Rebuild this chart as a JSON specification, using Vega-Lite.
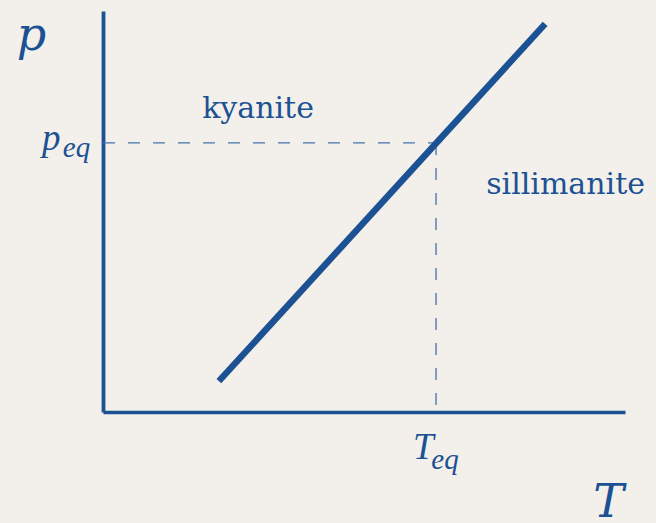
{
  "$schema": "https://vega.github.io/schema/vega-lite/v6.json",
  "width": 522,
  "height": 401,
  "autosize": {"type": "none"},
  "padding": {"left": 103, "top": 11, "right": 31, "bottom": 111},
  "background": "#f3f0eb",
  "config": {"view": {"stroke": null}},
  "datasets": {
    "boundary": [{"T": 22.2, "p": 7.7}, {"T": 84.7, "p": 96.8}],
    "hdash": [{"T": 0, "p": 67.1}, {"T": 63.8, "p": 67.1}],
    "vdash": [{"T": 63.8, "p": 67.1}, {"T": 63.8, "p": 0}],
    "phases": [
      {"label": "kyanite", "T": 19.0, "p": 73.3},
      {"label": "sillimanite", "T": 73.4, "p": 54.4}
    ],
    "bigsym": [
      {"label": "p", "T": -16.5, "p": 90.3},
      {"label": "T", "T": 93.9, "p": -26.2}
    ],
    "eqmain": [
      {"label": "p", "T": -11.7, "p": 65.3},
      {"label": "T", "T": 59.4, "p": -11.7}
    ],
    "eqsub": [
      {"label": "eq", "T": -7.7, "p": 63.6},
      {"label": "eq", "T": 62.9, "p": -14.2}
    ]
  },
  "layer": [
    {
      "data": {"name": "hdash"},
      "mark": {"type": "line", "color": "#4572a9", "strokeWidth": 1.3, "strokeDash": [12, 13], "clip": false},
      "encoding": {
        "x": {"field": "T", "type": "quantitative", "scale": {"domain": [0, 100], "nice": false, "zero": false},
          "axis": {"domainColor": "#1c5193", "domainWidth": 3.5, "ticks": false, "labels": false, "grid": false, "title": null}},
        "y": {"field": "p", "type": "quantitative", "scale": {"domain": [0, 100], "nice": false, "zero": false},
          "axis": {"domainColor": "#1c5193", "domainWidth": 3.8, "ticks": false, "labels": false, "grid": false, "title": null}}
      }
    },
    {
      "data": {"name": "vdash"},
      "mark": {"type": "line", "color": "#4572a9", "strokeWidth": 1.3, "strokeDash": [12, 13], "clip": false},
      "encoding": {
        "x": {"field": "T", "type": "quantitative"},
        "y": {"field": "p", "type": "quantitative"},
        "order": {"field": "p", "sort": "descending"}
      }
    },
    {
      "data": {"name": "boundary"},
      "mark": {"type": "line", "color": "#1c5193", "strokeWidth": 6.5, "strokeCap": "butt", "clip": false},
      "encoding": {
        "x": {"field": "T", "type": "quantitative"},
        "y": {"field": "p", "type": "quantitative"}
      }
    },
    {
      "data": {"name": "phases"},
      "mark": {"type": "text", "font": "DejaVu Serif", "fontSize": 30, "color": "#1c5193", "align": "left", "baseline": "alphabetic", "clip": false},
      "encoding": {
        "x": {"field": "T", "type": "quantitative"},
        "y": {"field": "p", "type": "quantitative"},
        "text": {"field": "label"}
      }
    },
    {
      "data": {"name": "bigsym"},
      "mark": {"type": "text", "font": "DejaVu Serif", "fontStyle": "italic", "fontSize": 46, "color": "#1c5193", "align": "left", "baseline": "alphabetic", "clip": false},
      "encoding": {
        "x": {"field": "T", "type": "quantitative"},
        "y": {"field": "p", "type": "quantitative"},
        "text": {"field": "label"}
      }
    },
    {
      "data": {"name": "eqmain"},
      "mark": {"type": "text", "font": "Liberation Serif", "fontStyle": "italic", "fontSize": 37, "color": "#1c5193", "align": "left", "baseline": "alphabetic", "clip": false},
      "encoding": {
        "x": {"field": "T", "type": "quantitative"},
        "y": {"field": "p", "type": "quantitative"},
        "text": {"field": "label"}
      }
    },
    {
      "data": {"name": "eqsub"},
      "mark": {"type": "text", "font": "Liberation Serif", "fontStyle": "italic", "fontSize": 29, "color": "#1c5193", "align": "left", "baseline": "alphabetic", "clip": false},
      "encoding": {
        "x": {"field": "T", "type": "quantitative"},
        "y": {"field": "p", "type": "quantitative"},
        "text": {"field": "label"}
      }
    }
  ]
}
